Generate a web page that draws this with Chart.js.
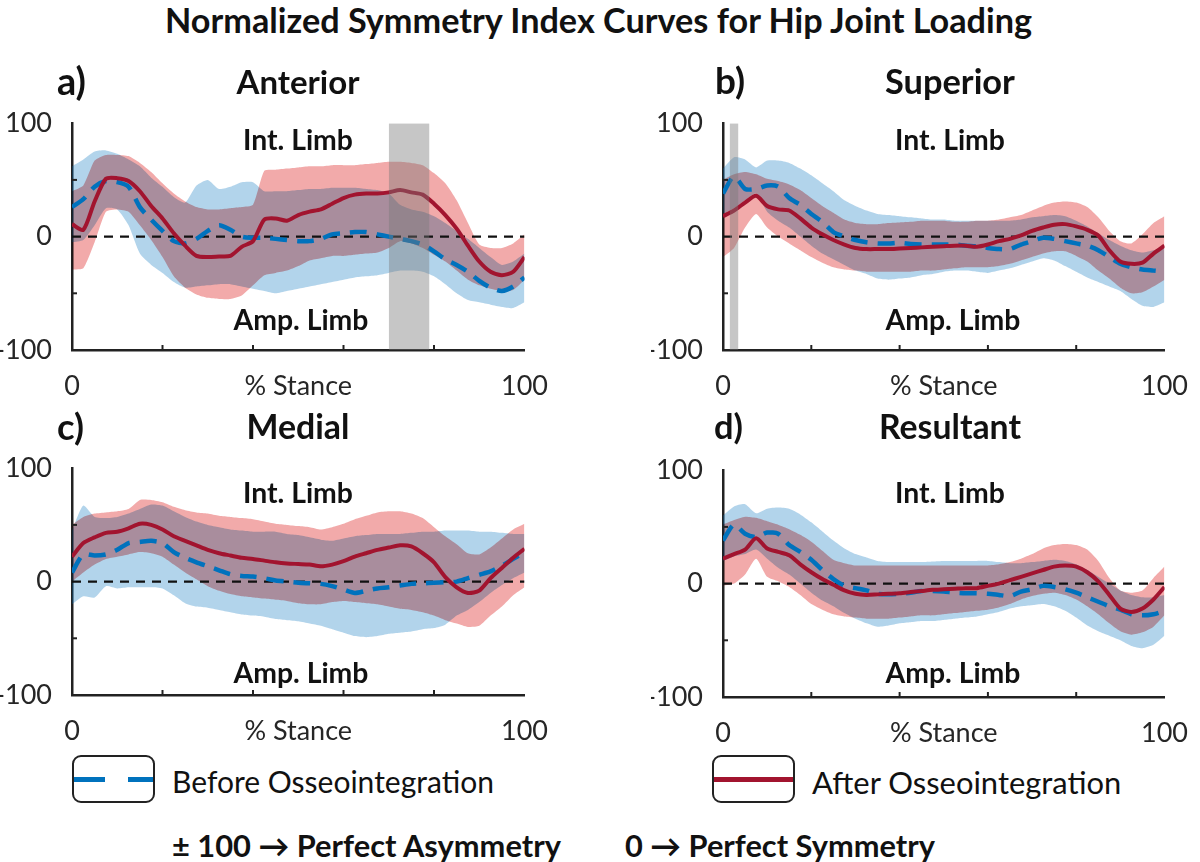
<!DOCTYPE html>
<html><head><meta charset="utf-8">
<script src="https://cdn.jsdelivr.net/npm/chart.js@4.4.1/dist/chart.umd.min.js"></script>
<style>
html,body{margin:0;padding:0;background:#fff;}
body{width:1200px;height:862px;position:relative;overflow:hidden;font-family:Lato,"Open Sans",sans-serif;color:#111;}
canvas{position:absolute;}
.t{position:absolute;white-space:nowrap;line-height:1;z-index:5;}
.box{position:absolute;border:2.5px solid #222;border-radius:9px;box-sizing:border-box;background:#fff;}
.seg{position:absolute;height:5px;}
</style></head><body>
<canvas id="cA"></canvas><canvas id="cB"></canvas><canvas id="cC"></canvas><canvas id="cD"></canvas>
<script>
// ---------- data ----------
const stance = [0,2.5,5,7.5,10,12.5,15,17.5,20,22.5,25,27.5,30,32.5,35,37.5,40,42.5,45,47.5,50,52.5,55,57.5,60,62.5,65,67.5,70,72.5,75,77.5,80,82.5,85,87.5,90,92.5,95,97.5,100];

const antBeforeMean  = [26,33,44,49,48,44,26,15,5,-4,-6,-2,5,10,6,0,-1,-1,-2,-3,-4,-4,-2,2,3,4,4,2,0,-2,-4,-7,-13,-20,-25,-31,-39,-45,-48,-44,-36];
const antBeforeUpper = [62,68,75,76,73,68,62,52,44,35,30,45,50,42,44,48,48,40,40,40,41,42,42,43,43,43,42,41,38,28,24,22,18,12,5,-2,-10,-18,-25,-22,-15];
const antBeforeLower = [-5,-3,10,25,24,10,-15,-25,-32,-40,-45,-44,-43,-42,-42,-44,-46,-48,-50,-48,-46,-44,-42,-40,-38,-36,-35,-34,-32,-30,-30,-31,-35,-42,-50,-56,-58,-60,-62,-63,-58];
const antAfterMean   = [11,6,31,51,51.5,49,40,27,16,3,-8,-17,-18,-17.5,-17,-9,-4,15,16,14,19,22,24,29,34,37,38,38,39,41,39,37,29,19,7,-8,-22,-31,-34,-31,-18];
const antAfterUpper  = [40,45,67,72,72,71,65,57,47,38,31,26,24,24,25,26,28,58,59,60,61,62,62,63,63,63,64,65,66,66,65,63,56,47,32,12,-7,-10,-10,-6,2];
const antAfterLower  = [-29,-28,-5,22,24,22,10,-3,-18,-35,-45,-51,-54,-55,-55,-52,-43,-34,-32,-30,-26,-21,-19,-17,-17,-16,-15,-14,-10,-4,-6,-10,-16,-22,-30,-38,-43,-46,-48,-47,-38];

const supBeforeMean  = [38,53,42,42,45,44,34,28,20,13,4,0,-3,-5,-6,-6,-5.5,-6.5,-7,-7,-7,-7,-8,-8.5,-10,-11,-11,-7,-4,-1,-2,-4,-6,-8,-12,-18,-24,-27,-29,-30,-31];
const supBeforeUpper = [60,70,68,61,67,67,65,60,54,47,40,32,27,23,20,19,18,17,16,15,15,14,14,14,14,14,14,15,17,18,19,18,14,9,3,-3,-8,-12,-14,-12,-10];
const supBeforeLower = [20,25,32,38,22,14,8,0,-8,-15,-20,-25,-30,-33,-37,-38,-37,-36,-34,-33,-31,-30,-30,-31,-32,-30,-28,-25,-22,-19,-21,-26,-31,-36,-40,-44,-48,-55,-61,-62,-58];
const supAfterMean   = [18,23,30,36,27,24,23,16,8,2,-3,-7,-10,-11,-11,-11,-10.5,-10,-9.5,-9,-8.5,-8,-8,-9,-7,-4,-2,1,5,8,10.5,11,9,6,1,-12,-22,-24,-23,-15,-8];
const supAfterUpper  = [50,55,57,55,51,49,46,41,34,27,21,15,12,11,11,12,12.5,13,14,14,14,13,13,14,14,15,17,19,23,27,30,31,30,26,17,5,-4,-6,2,12,18];
const supAfterLower  = [-18,-10,8,20,8,0,-6,-12,-18,-23,-27,-29,-30,-31,-31,-31,-31,-31,-30,-30,-29,-28,-27,-27,-27,-26,-24,-21,-18,-15,-13,-13,-17,-22,-30,-37,-45,-50,-49,-44,-38];

const medBeforeMean  = [8,24,23,24,28,34,35,36,34,26,21,17,13.5,10,6.5,5,4.5,3,1,0,-1,-1.5,-2,-4,-7,-10,-8,-6,-5,-3.5,-2,-1.5,-1,-0.5,0,3,6,9,14,20,26];
const medBeforeUpper = [45,67,57,56,57,60,64,68,67,62,57,53,50,48,46,45,44,44,44,42,41,39,37,36,38,40,41,42,42,42,43,44,44,45,45,45,44,44,43,42,42];
const medBeforeLower = [-20,-13,-14,-4,-6,-5,-5,-5,-6,-12,-19,-22,-23,-25,-27,-29,-30,-31,-33,-34,-35,-37,-39,-42,-45,-48,-49,-48,-46,-45,-44,-42,-41,-38,-30,-25,-18,-10,-3,3,8];
const medAfterMean   = [22,34,39,43,44,47,51,50,46,40,36,32,28,25,23,21,20,18.5,17,16,15.5,15,13.5,15,18,22,25,28,30,32,31,25,17,4,-5,-10,-8,3,12,21,29];
const medAfterUpper  = [50,57,60,61,62,64,72,72,70,66,63,61,60,58,57,56,55,53,51,50,49,48,46,48,51,55,58,61,62,62,60,56,48,40,33,25,24,30,38,46,51];
const medAfterLower  = [0,8,15,20,22,24,26,25,22,15,8,2,-4,-8,-11,-13,-14,-15,-16,-17,-19,-20,-20,-18,-17,-18,-19,-20,-22,-24,-25,-27,-30,-34,-37,-40,-39,-30,-22,-12,-5];

const resBeforeMean  = [38,52,44,41,45,44,34,28,21,12,4,-2,-4,-6,-9,-9.5,-9,-8,-6.5,-6.5,-7,-8,-8.5,-8.5,-9,-10,-11,-7,-5,-2,-3,-5,-8,-12,-16,-20,-23,-27,-28,-27,-24];
const resBeforeUpper = [60,68,70,62,66,67,66,61,54,46,38,31,26,23,20,19,19,19,19,19.5,20,20,20,20,20,19,18,18,19,20,21,20,17,12,6,0,-6,-10,-12,-12,-10];
const resBeforeLower = [20,24,26,30,22,14,8,0,-8,-15,-20,-26,-31,-35,-38,-37,-35,-34,-33,-33,-32,-31,-30,-29,-27,-25,-22,-20,-19,-18,-20,-24,-30,-37,-42,-46,-50,-55,-57,-54,-46];
const resAfterMean   = [22,26,30,40,31,28,25,17,10,4,-1,-6,-9,-10,-9.5,-9,-8.5,-7.5,-6.5,-5.5,-5,-4.5,-4,-4,-2,0,3,6,9,12,15,16,15,10,2,-10,-22,-25,-22,-14,-3];
const resAfterUpper  = [52,56,59,58,55,52,48,43,37,29,21,18,16,16,16,16,16,16,16,16,16,16,16,16,16,17,19,22,26,31,34,35,34,30,20,5,-6,-8,-6,5,15];
const resAfterLower  = [-2,0,8,22,6,2,-3,-10,-18,-23,-27,-29,-30,-31,-31,-31,-30,-29,-28,-28,-27,-26,-25,-24,-23,-21,-18,-14,-11,-9,-8,-10,-14,-20,-27,-35,-42,-45,-43,-38,-28];

const zeroX = [0,100];
const zeroY = [0,0];
const shadeAnterior = [70,79];
const shadeSuperior = [1.5,3.5];
const xTickValues = [0,50,100];
const xTickLabels = ['0','% Stance','100'];
const yTickValues = [-100,0,100];
const yTickLabels = ['-100','0','100'];
const xMinorTicks = [20,40,60,80];
const yMinorTicks = [-50,50];

// ---------- styling ----------
const BLUE = '#0072BD', RED = '#A2142F';
const BLUE_BAND = 'rgba(0,114,189,0.30)', RED_BAND = 'rgb(242,170,170)';
const SHADE = 'rgba(120,120,120,0.42)';
const FONT = 'Lato';

const pts = ys => stance.map((x,i)=>({x, y: ys[i]}));

const inward = {
  id:'inward',
  afterDatasetDraw(chart, args){
    // red band (index 2) is blended with multiply so the overlap turns mauve
    if (args.index === 3) chart.ctx.globalCompositeOperation = 'multiply';
    if (args.index === 2) chart.ctx.globalCompositeOperation = 'source-over';
  },
  afterDraw(chart){
    const {ctx, scales:{x, y}} = chart;
    ctx.save(); ctx.strokeStyle='#222'; ctx.lineWidth=2;
    xMinorTicks.forEach(v=>{const p=x.getPixelForValue(v); ctx.beginPath(); ctx.moveTo(p,y.bottom); ctx.lineTo(p,y.bottom-5); ctx.stroke();});
    yMinorTicks.forEach(v=>{const p=y.getPixelForValue(v); ctx.beginPath(); ctx.moveTo(x.left,p); ctx.lineTo(x.left+5,p); ctx.stroke();});
    ctx.restore();
  }
};

function panel(id, g, before, after, shade){
  const cv = document.getElementById(id);
  const yw = 72, xh = 50, padT = 20;
  const W = g.canvasW, H = padT + (g.plotB - g.plotT) + xh;
  cv.width = W; cv.height = H;
  cv.style.left = (g.plotL - yw) + 'px';
  cv.style.top = (g.plotT - padT) + 'px';
  const padR = W - yw - (g.plotR - g.plotL);
  const ds = [
    {data: pts(before.upper), fill:'+1', backgroundColor: BLUE_BAND, borderWidth:0, order:8, tension:0.2},
    {data: pts(before.lower), fill:false, borderWidth:0, order:7, tension:0.2},
    {data: pts(after.upper), fill:'+1', backgroundColor: RED_BAND, borderWidth:0, order:5, tension:0.2},
    {data: pts(after.lower), fill:false, borderWidth:0, order:6, tension:0.2},
    {data: zeroX.map((x,i)=>({x, y: zeroY[i]})), borderColor:'#111', borderWidth:2.2, borderDash:[9,7], order:4, fill:false},
    {data: pts(before.mean), borderColor: BLUE, borderWidth:4.5, borderDash:[17,10], order:3, fill:false, tension:0.25},
    {data: pts(after.mean), borderColor: RED, borderWidth:4, order:2, fill:false, tension:0.25}
  ];
  if (shade) ds.push({data: shade.map(x=>({x, y:100})), fill:{value:-100}, backgroundColor: SHADE, borderWidth:0, order:1});
  new Chart(cv, {
    type:'line',
    data:{datasets: ds},
    options:{
      responsive:false, animation:false, devicePixelRatio:1,
      layout:{padding:{left:0, top:padT, right:padR, bottom:0}},
      elements:{point:{radius:0}},
      plugins:{legend:{display:false}, tooltip:{enabled:false}},
      scales:{
        x:{type:'linear', min:0, max:100,
           grid:{display:false}, border:{display:true, color:'#222', width:2.5},
           afterBuildTicks: s => { s.ticks = xTickValues.map(v=>({value:v})); },
           ticks:{autoSkip:false, maxRotation:0, padding:12, color:'#262626', font:{family:FONT, size:27},
                  callback:(v,i)=> xTickLabels[i]},
           afterFit: s => { s.height = xh; }},
        y:{type:'linear', min:-100, max:100,
           grid:{display:false}, border:{display:true, color:'#222', width:2.5},
           afterBuildTicks: s => { s.ticks = yTickValues.map(v=>({value:v})); },
           ticks:{padding:12, color:'#262626', font:{family:FONT, size:27},
                  callback:(v,i)=> yTickLabels[i]},
           afterFit: s => { s.width = yw; }}
      }
    },
    plugins:[inward]
  });
}

panel('cA', {plotL:72, plotR:525, plotT:115, plotB:350, canvasW:560},
  {mean:antBeforeMean, upper:antBeforeUpper, lower:antBeforeLower},
  {mean:antAfterMean, upper:antAfterUpper, lower:antAfterLower}, shadeAnterior);
panel('cB', {plotL:723, plotR:1176, plotT:115, plotB:350, canvasW:549},
  {mean:supBeforeMean, upper:supBeforeUpper, lower:supBeforeLower},
  {mean:supAfterMean, upper:supAfterUpper, lower:supAfterLower}, shadeSuperior);
panel('cC', {plotL:72, plotR:525, plotT:460, plotB:695, canvasW:560},
  {mean:medBeforeMean, upper:medBeforeUpper, lower:medBeforeLower},
  {mean:medAfterMean, upper:medAfterUpper, lower:medAfterLower}, null);
panel('cD', {plotL:723, plotR:1176, plotT:462, plotB:697, canvasW:549},
  {mean:resBeforeMean, upper:resBeforeUpper, lower:resBeforeLower},
  {mean:resAfterMean, upper:resAfterUpper, lower:resAfterLower}, null);

// ---------- text ----------
const mctx = document.createElement('canvas').getContext('2d');
function txt(s, x, cy, w, weight, align){
  mctx.font = `${weight} 100px ${FONT}`;
  const fs = 100 * w / mctx.measureText(s).width;
  const d = document.createElement('div');
  d.className = 't'; d.textContent = s;
  d.style.font = `${weight} ${fs.toFixed(2)}px ${FONT}`;
  d.style.top = (cy - 0.53*fs) + 'px';
  d.style.left = (align === 'center' ? x - w/2 : x) + 'px';
  document.body.appendChild(d);
}
txt('Normalized Symmetry Index Curves for Hip Joint Loading', 600, 17, 870, 700, 'center');
txt('a)', 57, 78, 29, 700, 'left');
txt('Anterior', 298, 78, 123, 700, 'center');
txt('b)', 715, 78, 30, 700, 'left');
txt('Superior', 950, 78, 130, 700, 'center');
txt('c)', 57, 423, 27, 700, 'left');
txt('Medial', 298, 424, 103, 700, 'center');
txt('d)', 714, 423, 29, 700, 'left');
txt('Resultant', 950, 424, 142, 700, 'center');
[[298,137,317],[950,137,317],[298,490,670],[950,490,670]].forEach(([cx,yi,ya])=>{
  txt('Int. Limb', cx, yi, 110, 700, 'center');
  txt('Amp. Limb', cx+3, ya, 135, 700, 'center');
});
txt('Before Osseointegration', 172, 779, 322, 400, 'left');
txt('After Osseointegration', 812, 779, 310, 400, 'left');
txt('\u00B1 100 \u2192 Perfect Asymmetry', 172, 843, 390, 700, 'left');
txt('0 \u2192 Perfect Symmetry', 625, 843, 310, 700, 'left');

// legend keys
function box(l, t, w, h){ const b=document.createElement('div'); b.className='box'; Object.assign(b.style,{left:l+'px',top:t+'px',width:w+'px',height:h+'px'}); document.body.appendChild(b); }
function seg(l, t, w, c){ const s=document.createElement('div'); s.className='seg'; Object.assign(s.style,{left:l+'px',top:t+'px',width:w+'px',background:c,zIndex:3}); document.body.appendChild(s); }
box(72, 755, 83, 48); seg(74, 776.5, 31, BLUE); seg(128, 776.5, 25, BLUE);
box(712, 755, 83, 48); seg(714, 776.5, 79, RED);
</script>
</body></html>
